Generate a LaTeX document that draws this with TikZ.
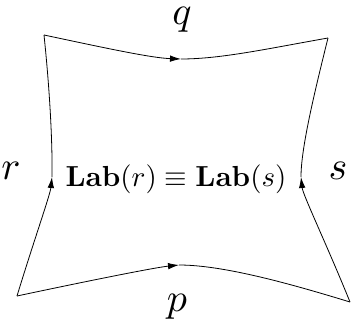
\documentclass[tikz,border=0pt]{standalone}
\usetikzlibrary{arrows.meta}
\begin{document}
\begin{tikzpicture}[x=1pt,y=1pt,
  edge/.style={line width=0.8pt},
  arr/.style={edge,-{Latex[length=11pt,width=6.5pt]}},
  lbl/.style={scale=4,inner sep=0pt},
  mid/.style={scale=2.9,inner sep=0pt}]
\useasboundingbox (0,0) rectangle (351,322);
\coordinate (TL) at (44,287);
\coordinate (TR) at (328,284);
\coordinate (BL) at (17,26);
\coordinate (BR) at (350,20);
\coordinate (mT) at (181,263);
\coordinate (mB) at (179,57);
\coordinate (mL) at (52,145);
\coordinate (mR) at (301,145);
% top
\draw[arr] (TL) to[out=-12,in=178,out distance=60,in distance=30] (mT);
\draw[edge] (mT) to[out=0,in=190,out distance=40,in distance=60] (TR);
% bottom
\draw[arr] (BL) to[out=12,in=186,out distance=70,in distance=25] (mB);
\draw[edge] (mB) to[out=0,in=163,out distance=45,in distance=60] (BR);
% left
\draw[arr] (BL) to[out=73,in=-96,out distance=60,in distance=18] (mL);
\draw[edge] (mL) to[out=89,in=-84,out distance=30,in distance=60] (TL);
% right
\draw[arr] (BR) to[out=112,in=-84,out distance=60,in distance=18] (mR);
\draw[edge] (mR) to[out=90,in=-104,out distance=28,in distance=60] (TR);
% labels
\node[lbl] (q) at (182,302) {$q$};
\node[lbl] (p) at (177,15) {$p$};
\node[lbl] (r) at (11,151) {$r$};
\node[lbl] (s) at (338,151) {$s$};
\node[mid] (c) at (176,143) {$\mathbf{Lab}(r)\equiv\mathbf{Lab}(s)$};
\end{tikzpicture}
\end{document}
